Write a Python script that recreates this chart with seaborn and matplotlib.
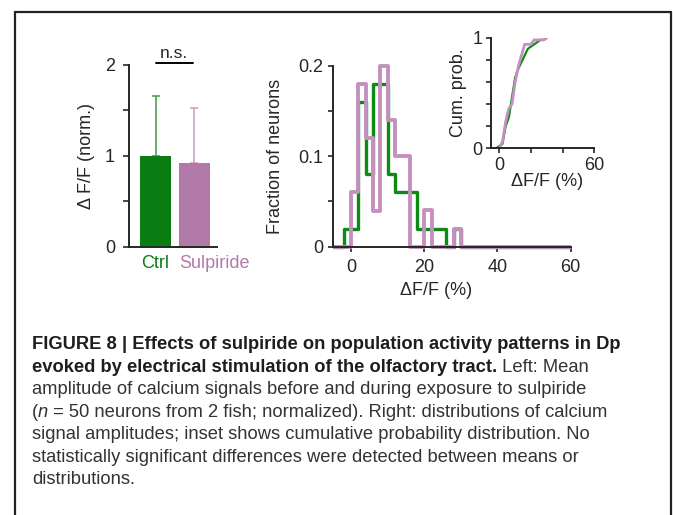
import numpy as np
import pandas as pd
import matplotlib
matplotlib.use("Agg")
import matplotlib.pyplot as plt
from matplotlib.patches import Rectangle
from matplotlib.lines import Line2D
import matplotlib.transforms as mtrans
import seaborn as sns

# ---------------- data ----------------
conditions = ["Ctrl", "Sulpiride"]
bar_means = [1.00, 0.925]
bar_err_up = [0.66, 0.60]

# histogram (fraction of neurons), bins of 2 %, given by bin centres
bin_centers = [-1, 1, 3, 5, 7, 9, 11, 13, 15, 17, 19, 21, 23, 25, 27, 29]
ctrl_frac = [0.02, 0.02, 0.16, 0.08, 0.18, 0.18, 0.08, 0.06, 0.06, 0.06,
             0.02, 0.02, 0.02, 0.02, 0.00, 0.02]
sulp_frac = [0.00, 0.06, 0.18, 0.12, 0.04, 0.20, 0.14, 0.10, 0.10, 0.00,
             0.00, 0.04, 0.00, 0.00, 0.00, 0.02]
hist_bins = list(range(-6, 62, 2))

hist_yticks = [0, 0.1, 0.2]
hist_xticks = [0, 20, 40, 60]
bar_yticks = [0, 1, 2]

caption_lines = [
    [("FIGURE 8 | Effects of sulpiride on population activity patterns in Dp", "bold", "normal")],
    [("evoked by electrical stimulation of the olfactory tract.", "bold", "normal"),
     (" Left: Mean", "normal", "normal")],
    [("amplitude of calcium signals before and during exposure to sulpiride", "normal", "normal")],
    [("(", "normal", "normal"), ("n", "normal", "italic"),
     (" = 50 neurons from 2 fish; normalized). Right: distributions of calcium", "normal", "normal")],
    [("signal amplitudes; inset shows cumulative probability distribution. No", "normal", "normal")],
    [("statistically significant differences were detected between means or", "normal", "normal")],
    [("distributions.", "normal", "normal")],
]

# ---------------- style ----------------
GREEN = "#0a7d12"
PURPLE = "#b27aa9"
GREEN_L = "#0d8a12"
PURPLE_L = "#c490bf"
sns.set_style("ticks")
plt.rcParams["font.family"] = ["Liberation Sans", "DejaVu Sans"]
plt.rcParams["axes.linewidth"] = 1.4
plt.rcParams["xtick.major.width"] = 1.2
plt.rcParams["ytick.major.width"] = 1.2
plt.rcParams["ytick.minor.width"] = 1.2

W, H = 673, 515
fig = plt.figure(figsize=(W / 100, H / 100), dpi=100)
FS = 13

def ax_rect(left, right, top, bottom):
    return [left / W, 1 - bottom / H, (right - left) / W, (bottom - top) / H]

# ---------------- bar chart ----------------
ax1 = fig.add_axes(ax_rect(129, 216.7, 65, 246.7))
df_bar = pd.DataFrame({"cond": conditions, "val": bar_means})
sns.barplot(data=df_bar, x="cond", y="val", hue="cond", palette=[GREEN, PURPLE],
            width=0.79, saturation=1, legend=False, ax=ax1, errorbar=None,
            linewidth=0, zorder=2)
for i, (m, e, c) in enumerate(zip(bar_means, bar_err_up, ["#3d9a3d", "#c99bc4"])):
    ax1.errorbar([i], [m], yerr=[[0], [e]], fmt="none", ecolor=c, elinewidth=1.1,
                 capsize=3.2, capthick=1.1, zorder=1)
ax1.set_xlim(-0.68, 1.57)
ax1.set_ylim(0, 2)
ax1.set_yticks(bar_yticks)
ax1.set_yticklabels([str(t) for t in bar_yticks], fontsize=FS)
ax1.set_yticks([0.5, 1.5], minor=True)
ax1.tick_params(axis="y", which="both", length=4, direction="out", pad=6)
ax1.set_xticks([])
ax1.set_xlabel("")
ax1.set_ylabel("\u0394 F/F (norm.)", fontsize=FS)
ax1.yaxis.set_label_coords(-0.39, 0.5)
sns.despine(ax=ax1)
# category labels, coloured; Sulpiride label starts at its bar's left edge
lab_tr = mtrans.blended_transform_factory(ax1.transData, ax1.transAxes)
ax1.text(0, -0.045, conditions[0], color=GREEN, fontsize=FS, ha="center", va="top",
         transform=lab_tr)
ax1.text(1 - 0.395, -0.045, conditions[1], color=PURPLE, fontsize=FS, ha="left",
         va="top", transform=lab_tr)
ax1.plot([0.0, 0.95], [2.02, 2.02], color="black", lw=1.4, clip_on=False)
ax1.text(0.47, 2.075, "n.s.", ha="center", va="baseline", fontsize=FS - 0.5)

# ---------------- histogram ----------------
ax2 = fig.add_axes(ax_rect(332.7, 570.7, 65.7, 246.7))
df_hist = pd.DataFrame({"center": bin_centers, "ctrl": ctrl_frac, "sulp": sulp_frac})
sns.histplot(data=df_hist, x="center", weights="ctrl", bins=hist_bins, element="step",
             fill=False, color=GREEN_L, linewidth=2.4, ax=ax2, stat="count")
sns.histplot(data=df_hist, x="center", weights="sulp", bins=hist_bins, element="step",
             fill=False, color=PURPLE_L, linewidth=2.8, ax=ax2, stat="count")
ax2.set_xlim(-5, 60)
ax2.set_ylim(0, 0.2)
clip = Rectangle((-5, -0.05), 65, 0.3, transform=ax2.transData)
for ln in ax2.lines:
    ln.set_clip_path(clip)
ax2.set_xticks(hist_xticks)
ax2.set_xticklabels([str(t) for t in hist_xticks], fontsize=FS)
ax2.set_yticks(hist_yticks)
ax2.set_yticklabels(["0", "0.1", "0.2"], fontsize=FS)
ax2.set_yticks([0.05, 0.15], minor=True)
ax2.tick_params(axis="both", which="both", length=3.5, direction="out")
ax2.tick_params(axis="y", pad=3)
ax2.tick_params(axis="x", pad=5)
ax2.set_ylabel("Fraction of neurons", fontsize=FS)
ax2.yaxis.set_label_coords(-0.205, 0.5)
ax2.set_xlabel("\u0394F/F (%)", fontsize=FS)
ax2.xaxis.set_label_coords(0.434, -0.195)
sns.despine(ax=ax2)

# ---------------- inset: cumulative ----------------
ax3 = fig.add_axes(ax_rect(491.4, 594.4, 37.7, 148.3))
for frac, col, lw in [(ctrl_frac, GREEN_L, 1.6), (sulp_frac, PURPLE_L, 2.0)]:
    f = np.array(frac)
    nz = np.nonzero(f)[0]
    i0, i1 = nz[0], nz[-1]
    xs = np.concatenate([[bin_centers[i0] - 1], np.array(bin_centers[i0:i1 + 1]) + 1])
    ys = np.concatenate([[0], np.cumsum(f[i0:i1 + 1])])
    sns.lineplot(x=xs, y=ys, color=col, lw=lw, ax=ax3, sort=False)
ax3.set_xlim(-5, 60)
ax3.set_ylim(0, 1)
ax3.set_xticks([0, 20, 40, 60])
ax3.set_xticklabels(["0", "", "", "60"], fontsize=FS)
ax3.set_yticks([0, 0.2, 0.4, 0.6, 0.8, 1.0])
ax3.set_yticklabels(["0", "", "", "", "", "1"], fontsize=FS)
ax3.tick_params(axis="both", length=3.5, direction="out", pad=3)
ax3.set_ylabel("Cum. prob.", fontsize=FS)
ax3.yaxis.set_label_coords(-0.235, 0.5)
ax3.set_xlabel("\u0394F/F (%)", fontsize=FS)
ax3.xaxis.set_label_coords(0.54, -0.225)
sns.despine(ax=ax3)

# ---------------- frame ----------------
for (x0, y0, x1, y1) in [(15, 12, 671, 12), (15, 12, 15, 515), (671, 12, 671, 515)]:
    fig.add_artist(Line2D([x0 / W, x1 / W], [1 - y0 / H, 1 - y1 / H],
                          transform=fig.transFigure, color="#222222", lw=1.6))

# ---------------- caption ----------------
cap_font = ["Liberation Sans", "DejaVu Sans"]
renderer = fig.canvas.get_renderer()
baselines = [349, 372, 394, 417, 439, 462, 484]
for yb, segs in zip(baselines, caption_lines):
    x = 32.0
    for txt, weight, style in segs:
        t = fig.text(x / W, 1 - yb / H, txt, fontsize=13.25, fontweight=weight,
                     fontstyle=style, family=cap_font, ha="left", va="baseline",
                     color="#1e1e1e" if weight == "bold" else "#333333")
        bb = t.get_window_extent(renderer)
        x += bb.width

fig.savefig("out.png", dpi=100)
